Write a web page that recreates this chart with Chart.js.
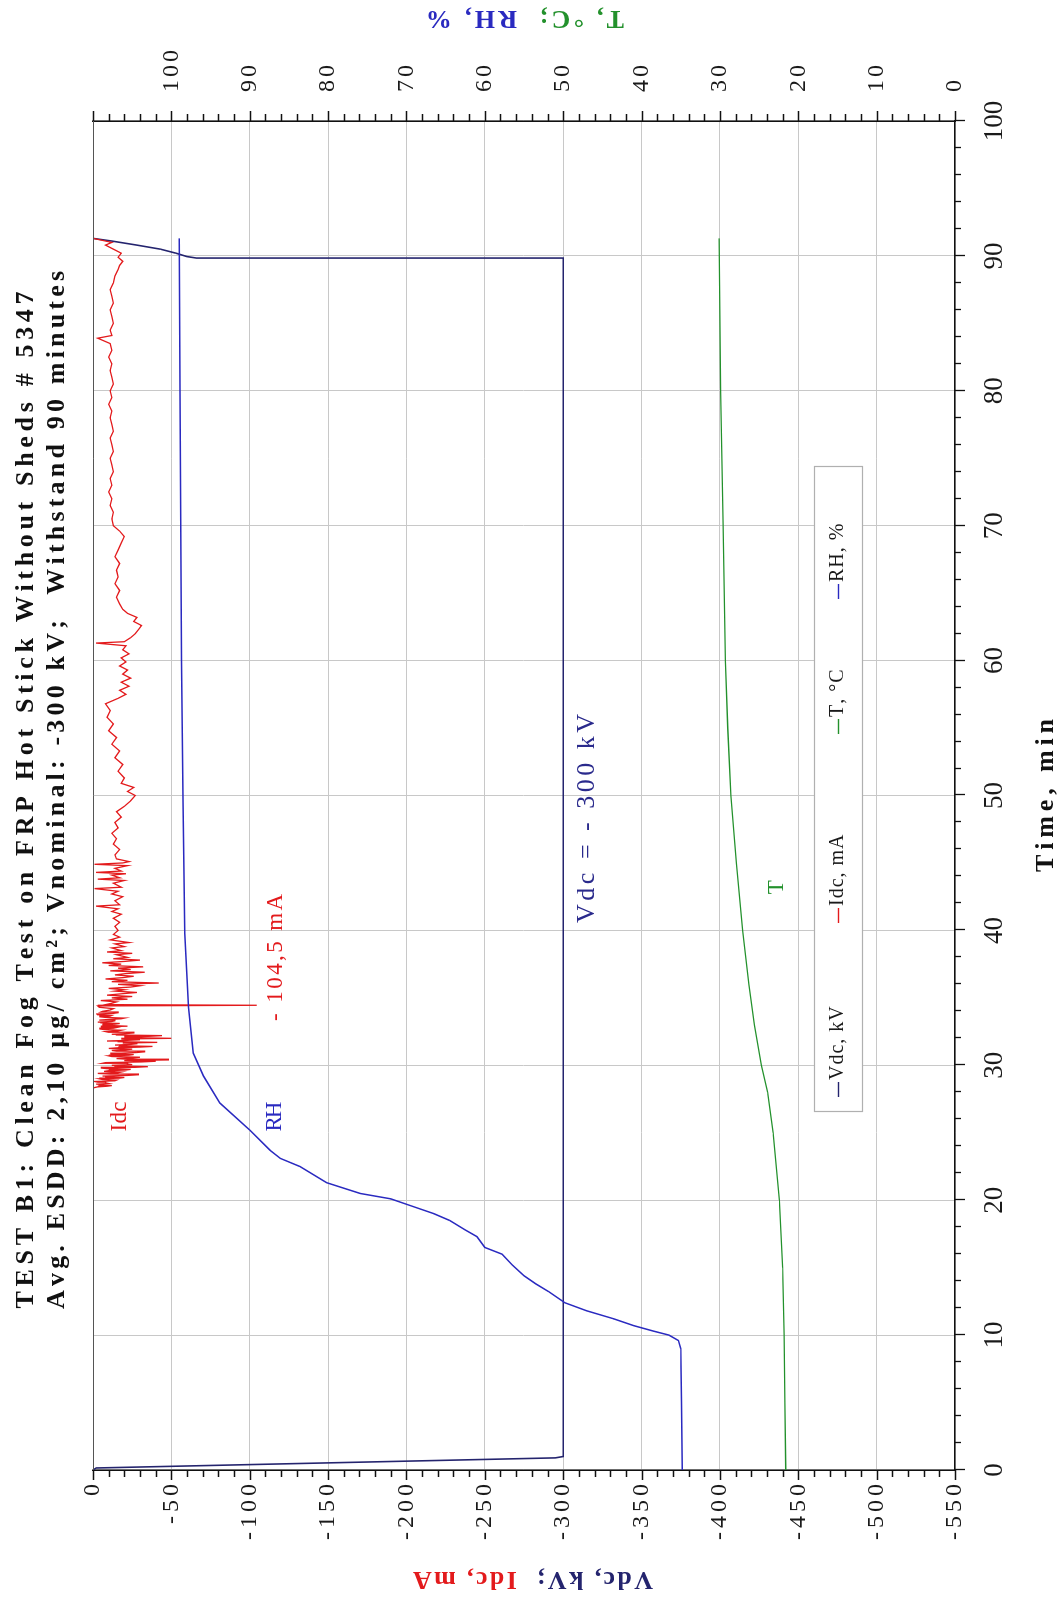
<!DOCTYPE html>
<html>
<head>
<meta charset="utf-8">
<script src="https://cdn.jsdelivr.net/npm/chart.js@4.4.1/dist/chart.umd.min.js"></script>
<style>
  html, body { margin: 0; padding: 0; background: #fff; width: 1064px; height: 1600px; overflow: hidden; }
  /* the chart is laid out landscape and turned a quarter turn to stand upright on the page */
  #wrap { position: absolute; left: 0; top: 0; width: 1600px; height: 1064px;
          transform-origin: 0 0; transform: translate(0, 1600px) rotate(-90deg); background: #fff; }
  canvas { display: block; }
</style>
</head>
<body>
<div id="wrap"><canvas id="c" width="1600" height="1064"></canvas></div>
<script>
// ---------------- data ----------------
const titleLines = [
  'TEST B1: Clean Fog Test on FRP Hot Stick Without Sheds # 5347',
  'Avg. ESDD: 2,10 \u00b5g/ cm\u00b2; Vnominal: -300 kV;  Withstand 90 minutes'
];
const seriesNames = ['Vdc, kV', 'Idc, mA', 'T, \u00b0C', 'RH, %'];

const timeTicks = [0, 10, 20, 30, 40, 50, 60, 70, 80, 90, 100];
const vdcTicks  = [0, -50, -100, -150, -200, -250, -300, -350, -400, -450, -500, -550];
const rhTicks   = [0, 10, 20, 30, 40, 50, 60, 70, 80, 90, 100];

// applied voltage, kV
const vdcTime  = [0, 0.15, 0.9, 1.0, 89.8, 89.84, 89.95, 90.2, 90.5, 90.8, 91.1, 91.3];
const vdcValue = [0, -2, -295, -300, -300, -66, -60, -53, -43, -28, -12, 0];

// leakage current, mA
const idcTime = [0, 28.3, 28.35, 28.4, 28.45, 28.5, 28.55, 28.6, 28.65, 28.7, 28.75, 28.8, 28.85, 28.9, 28.95,
  29.0, 29.05, 29.1, 29.15, 29.2, 29.25, 29.3, 29.35, 29.4, 29.45, 29.5, 29.55, 29.6, 29.65, 29.7, 29.75, 29.8, 29.85, 29.9, 29.95,
  30.0, 30.05, 30.1, 30.15, 30.2, 30.25, 30.3, 30.35, 30.4, 30.45, 30.5, 30.55, 30.6, 30.65, 30.7, 30.75, 30.8, 30.85, 30.9, 30.95,
  31.0, 31.05, 31.1, 31.15, 31.2, 31.25, 31.3, 31.35, 31.4, 31.45, 31.5, 31.55, 31.6, 31.65, 31.7, 31.75, 31.8, 31.85, 31.9, 31.95,
  32.0, 32.05, 32.1, 32.15, 32.2, 32.25, 32.3, 32.35, 32.4, 32.45, 32.5, 32.55, 32.6, 32.65, 32.7, 32.75, 32.8, 32.85, 32.9, 32.95,
  33.0, 33.05, 33.1, 33.15, 33.2, 33.25, 33.3, 33.35, 33.4, 33.45, 33.5, 33.55, 33.6, 33.65, 33.7, 33.75, 33.8, 33.85, 33.9, 33.95,
  34.0, 34.1, 34.2, 34.3, 34.4, 34.45, 34.5, 34.6, 34.7, 34.8, 34.9, 35.0, 35.1, 35.2, 35.3, 35.4, 35.5, 35.6, 35.7, 35.8, 35.9,
  36.0, 36.1, 36.2, 36.3, 36.4, 36.5, 36.6, 36.7, 36.8, 36.9, 37.0, 37.1, 37.2, 37.3, 37.4, 37.5, 37.6, 37.7, 37.8, 37.9,
  38.0, 38.2, 38.3, 38.4, 38.5, 38.7, 38.8, 39.0, 39.1, 39.3, 39.5, 39.7, 40.0, 40.3, 40.6, 40.9, 41.2, 41.4, 41.6, 41.8, 41.9,
  42.2, 42.5, 42.7, 42.9, 43.1, 43.2, 43.5, 43.7, 43.8, 43.9, 44.1, 44.2, 44.3, 44.4, 44.6, 44.8, 44.9, 45.0, 45.1, 45.3,
  45.6, 46.0, 46.4, 46.8, 47.2, 47.6, 48.0, 48.4, 48.8, 49.2, 49.6, 50.0, 50.3, 50.6, 50.9, 51.3, 51.8, 52.3, 52.8, 53.3,
  53.8, 54.3, 54.8, 55.3, 55.8, 56.3, 56.8, 57.2, 57.5, 57.8, 58.1, 58.4, 58.7, 59.0, 59.3, 59.6, 59.9, 60.2, 60.5, 60.8,
  61.1, 61.3, 61.4, 61.7, 62.0, 62.3, 62.6, 62.9, 63.2, 63.5, 63.8, 64.2, 64.7, 65.2, 65.7, 66.2, 66.7, 67.2, 67.7, 68.2,
  68.7, 69.2, 69.6, 70.0, 70.5, 71.0, 71.5, 72.0, 72.5, 73.0, 73.5, 74.0, 74.5, 75.0, 75.5, 76.0, 76.5, 77.0, 77.5, 78.0,
  78.5, 79.0, 79.5, 80.0, 80.5, 81.0, 81.5, 82.0, 82.5, 83.0, 83.5, 83.9, 84.1, 84.5, 85.0, 85.5, 86.0, 86.5, 87.0, 87.5,
  88.0, 88.5, 89.0, 89.3, 89.6, 89.9, 90.2, 90.5, 90.8, 91.0, 91.2, 91.3];
const idcValue = [0, 0, -1, -3, -9, -12, -4, -2, -10, -8, -3, -1, -14, -15, -6,
  -4, -17, -20, -8, -6, -22, -29, -11, -3, -16, -18, -7, -10, -21, -24, -9, -5, -27, -35, -14,
  -12, -25, -22, -6, -8, -31, -40, -20, -48, -22, -15, -26, -30, -12, -10, -23, -26, -11, -18, -28,
  -33, -15, -12, -21, -25, -10, -16, -30, -38, -17, -14, -24, -28, -19, -41, -16, -9, -22, -30, -18,
  -50, -24, -20, -36, -44, -15, -12, -21, -26, -10, -8, -16, -18, -7, -4, -13, -15, -5, -22, -11,
  -6, -14, -17, -5, -3, -12, -14, -4, -10, -18, -20, -8, -4, -11, -12, -3, -2, -13, -16, -5,
  -6, -11, -13, -4, -3, -104.5, -8, -12, -15, -5, -22, -12, -25, -9, -18, -28, -14, -20, -10, -24, -30,
  -16, -42, -12, -22, -8, -19, -26, -14, -21, -33, -11, -24, -16, -32, -10, -18, -6, -20, -30, -13,
  -22, -15, -25, -9, -18, -12, -20, -14, -23, -11, -17, -13, -16, -14, -17, -13, -18, -12, -16, -2, -17,
  -14, -19, -12, -16, -1, -18, -13, -20, -3, -17, -12, -21, -2, -18, -14, -22, -1, -19, -23, -15,
  -14, -17, -13, -15, -12, -16, -14, -18, -15, -20, -24, -27, -22, -26, -18, -20, -16, -19, -14, -17,
  -12, -15, -10, -13, -9, -11, -8, -16, -21, -17, -23, -18, -24, -19, -22, -17, -21, -18, -23, -19,
  -21, -2, -20, -24, -27, -29, -31, -26, -28, -22, -19, -17, -15, -17, -14, -16, -15, -17, -14, -16,
  -18, -20, -17, -13, -12, -13, -11, -12, -10, -12, -11, -13, -12, -11, -13, -12, -11, -13, -12, -11,
  -12, -10, -12, -11, -13, -12, -11, -12, -10, -12, -11, -3, -12, -11, -13, -12, -11, -13, -12, -11,
  -13, -14, -16, -17, -19, -16, -18, -13, -8, -12, -4, 0];

// air temperature, °C
const tTime  = [0, 5, 10, 15, 20, 25, 28, 30, 33, 36, 40, 45, 50, 55, 60, 70, 80, 91.3];
const tValue = [21.6, 21.7, 21.8, 22.0, 22.4, 23.2, 23.9, 24.7, 25.6, 26.3, 27.1, 27.9, 28.6, 29.0, 29.3, 29.6, 29.9, 30.1];

// relative humidity, %
const rhTime  = [0, 5, 9, 9.6, 10.0, 10.3, 10.7, 11.2, 11.8, 12.4, 13.2, 13.8, 14.4, 15.2, 16.0, 16.5, 17.3, 17.8,
  18.5, 19.0, 19.6, 20.1, 20.5, 21.3, 22.5, 23.1, 23.7, 25.2, 27.2, 29.2, 30.9, 34.3, 39.8, 49.7, 60, 70, 80, 91.3];
const rhValue = [34.8, 34.9, 35.0, 35.3, 36.5, 38.5, 41.0, 43.5, 47.0, 49.8, 51.8, 53.5, 55.0, 56.5, 57.8, 60.0, 61.0, 62.5,
  64.5, 66.5, 69.5, 72.0, 75.9, 80.2, 83.6, 86.1, 87.4, 90.0, 93.8, 95.9, 97.2, 97.8, 98.3, 98.5, 98.7, 98.8, 98.9, 99.0];

// ---------------- drawing ----------------
const SERIF = '"Liberation Serif", "Times New Roman", serif';
const COL = { vdc: '#24246e', idc: '#e31a1c', t: '#23912c', rh: '#2a2ac0', grid: '#c8c8c8', axis: '#111111', text: '#1a1a1a' };

const zip = (xs, ys) => xs.map((x, i) => ({ x, y: ys[i] }));

// coloured runs of text with an even gap between characters
function runsWidth(ctx, runs, gap) {
  let w = 0, n = 0;
  runs.forEach(r => { for (const ch of r.text) { w += ctx.measureText(ch).width; n++; } });
  return w + gap * Math.max(0, n - 1);
}
function drawRuns(ctx, runs, x, y, gap, align) {
  const total = runsWidth(ctx, runs, gap);
  let cx = align === 'center' ? x - total / 2 : align === 'right' ? x - total : x;
  ctx.textAlign = 'left';
  runs.forEach(r => {
    ctx.fillStyle = r.color;
    for (const ch of r.text) { ctx.fillText(ch, cx, y); cx += ctx.measureText(ch).width + gap; }
  });
  return total;
}
// same, with the gap chosen so the text spans the given width
function fitRuns(ctx, runs, x, y, width, align) {
  const natural = runsWidth(ctx, runs, 0);
  let n = 0; runs.forEach(r => n += [...r.text].length);
  const gap = n > 1 ? (width - natural) / (n - 1) : 0;
  return drawRuns(ctx, runs, x, y, gap, align);
}

const decorations = {
  id: 'decorations',
  afterDraw(chart) {
    const { ctx, chartArea: a, scales: { x, y, y2 } } = chart;
    ctx.save();

    // top frame line of the plot area
    ctx.strokeStyle = '#555'; ctx.lineWidth = 1;
    ctx.beginPath(); ctx.moveTo(a.left, a.top + 0.5); ctx.lineTo(a.right, a.top + 0.5); ctx.stroke();

    // tick marks, major and minor
    ctx.strokeStyle = COL.axis; ctx.lineWidth = 1.3;
    ctx.beginPath();
    for (let v = 0; v <= 100; v += 2) {
      const p = Math.round(x.getPixelForValue(v)) + 0.5, len = v % 10 === 0 ? 10 : 6;
      ctx.moveTo(p, a.bottom); ctx.lineTo(p, a.bottom + len);
    }
    for (let v = 0; v >= -550; v -= 10) {
      const p = Math.round(y.getPixelForValue(v)) + 0.5, len = v % 50 === 0 ? 10 : 7;
      ctx.moveTo(a.left, p); ctx.lineTo(a.left - len, p);
    }
    for (let v = 0; v <= 110; v += 2) {
      const p = Math.round(y2.getPixelForValue(v)) + 0.5, len = v % 10 === 0 ? 10 : 7;
      ctx.moveTo(a.right, p); ctx.lineTo(a.right + len, p);
    }
    ctx.stroke();

    // tick labels
    ctx.textBaseline = 'middle';
    ctx.font = '27px ' + SERIF;
    timeTicks.forEach(v => drawRuns(ctx, [{ text: String(v), color: COL.text }], x.getPixelForValue(v), a.bottom + 40, 0, 'center'));
    ctx.font = '24px ' + SERIF;
    vdcTicks.forEach(v => drawRuns(ctx, [{ text: String(v), color: COL.text }], a.left - 14, y.getPixelForValue(v), 4, 'right'));
    rhTicks.forEach(v => drawRuns(ctx, [{ text: String(v), color: COL.text }], a.right + 29, y2.getPixelForValue(v), 3, 'left'));

    // title
    ctx.font = 'bold 26px ' + SERIF;
    fitRuns(ctx, [{ text: titleLines[0], color: '#111' }], 800, 26, 1017, 'center');
    fitRuns(ctx, [{ text: titleLines[1], color: '#111' }], 810, 57, 1038, 'center');

    // axis titles
    ctx.font = 'bold 26px ' + SERIF;
    fitRuns(ctx, [{ text: 'Time, min', color: '#111' }], (a.left + a.right) / 2, a.bottom + 91, 153, 'center');
    ctx.save();
    ctx.translate(21, 533); ctx.rotate(-Math.PI / 2);
    fitRuns(ctx, [{ text: 'Vdc, kV;  ', color: COL.vdc }, { text: 'Idc, mA', color: COL.idc }], 0, 0, 240, 'center');
    ctx.restore();
    ctx.save();
    ctx.translate(1582, 525); ctx.rotate(-Math.PI / 2);
    fitRuns(ctx, [{ text: 'T, \u00b0C;  ', color: COL.t }, { text: 'RH, %', color: COL.rh }], 0, 0, 198, 'center');
    ctx.restore();

    // labels on the traces
    ctx.font = '26px ' + SERIF;
    fitRuns(ctx, [{ text: 'Vdc = - 300 kV', color: '#2a2a8c' }], x.getPixelForValue(48.3), y.getPixelForValue(-315), 209, 'center');
    ctx.font = '23px ' + SERIF;
    fitRuns(ctx, [{ text: 'RH', color: COL.rh }], x.getPixelForValue(26.2), y.getPixelForValue(-116), 30, 'center');
    fitRuns(ctx, [{ text: 'Idc', color: COL.idc }], x.getPixelForValue(26.2), y.getPixelForValue(-17), 30, 'center');
    fitRuns(ctx, [{ text: '- 104,5 mA', color: COL.idc }], x.getPixelForValue(38.0), y.getPixelForValue(-117), 127, 'center');
    drawRuns(ctx, [{ text: 'T', color: COL.t }], x.getPixelForValue(43.2), y2.getPixelForValue(22.7), 0, 'center');

    // legend
    const box = { left: 488, top: 814, right: 1133, bottom: 862 };
    ctx.fillStyle = '#fff'; ctx.fillRect(box.left, box.top, box.right - box.left, box.bottom - box.top);
    ctx.strokeStyle = '#b0b0b0'; ctx.lineWidth = 1.2;
    ctx.strokeRect(box.left + 0.5, box.top + 0.5, box.right - box.left, box.bottom - box.top);
    const lx = [503, 677, 866, 1001];
    const lc = [COL.vdc, COL.idc, COL.t, COL.rh];
    const ly = (box.top + box.bottom) / 2;
    ctx.font = '20px ' + SERIF;
    seriesNames.forEach((name, i) => {
      ctx.strokeStyle = lc[i]; ctx.lineWidth = 1.4;
      ctx.beginPath(); ctx.moveTo(lx[i], ly + 0.5); ctx.lineTo(lx[i] + 15, ly + 0.5); ctx.stroke();
      drawRuns(ctx, [{ text: name, color: '#1a1a1a' }], lx[i] + 17, ly, 1, 'left');
    });

    ctx.restore();
  }
};

const line = (label, data, color, width, axis) => ({
  label, data, borderColor: color, backgroundColor: color, borderWidth: width,
  pointRadius: 0, tension: 0, fill: false, yAxisID: axis
});

new Chart(document.getElementById('c'), {
  type: 'line',
  data: {
    datasets: [
      line(seriesNames[3], zip(rhTime, rhValue), COL.rh, 1.5, 'y2'),
      line(seriesNames[2], zip(tTime, tValue), COL.t, 1.3, 'y2'),
      line(seriesNames[1], zip(idcTime, idcValue), COL.idc, 1.3, 'y'),
      line(seriesNames[0], zip(vdcTime, vdcValue), COL.vdc, 1.6, 'y')
    ]
  },
  options: {
    responsive: false,
    animation: false,
    devicePixelRatio: 1,
    layout: { padding: { top: 93, left: 0, right: 0, bottom: 0 } },
    plugins: { legend: { display: false }, tooltip: { enabled: false }, title: { display: false } },
    scales: {
      x: {
        type: 'linear', position: 'bottom', min: 0, max: 100,
        ticks: { display: false, stepSize: 10 },
        grid: { color: COL.grid, lineWidth: 1, drawTicks: false },
        border: { display: true, color: COL.axis, width: 1.5 },
        afterFit: s => { s.height = 109; }
      },
      y: {
        type: 'linear', position: 'left', min: -550, max: 0,
        ticks: { display: false, stepSize: 50 },
        grid: { color: COL.grid, lineWidth: 1, drawTicks: false },
        border: { display: true, color: COL.axis, width: 1.5 },
        afterFit: s => { s.width = 130; }
      },
      y2: {
        type: 'linear', position: 'right', min: 0, max: 110,
        ticks: { display: false, stepSize: 10 },
        grid: { display: false, drawTicks: false },
        border: { display: true, color: COL.axis, width: 1.5 },
        afterFit: s => { s.width = 121; }
      }
    }
  },
  plugins: [decorations]
});
</script>
</body>
</html>
